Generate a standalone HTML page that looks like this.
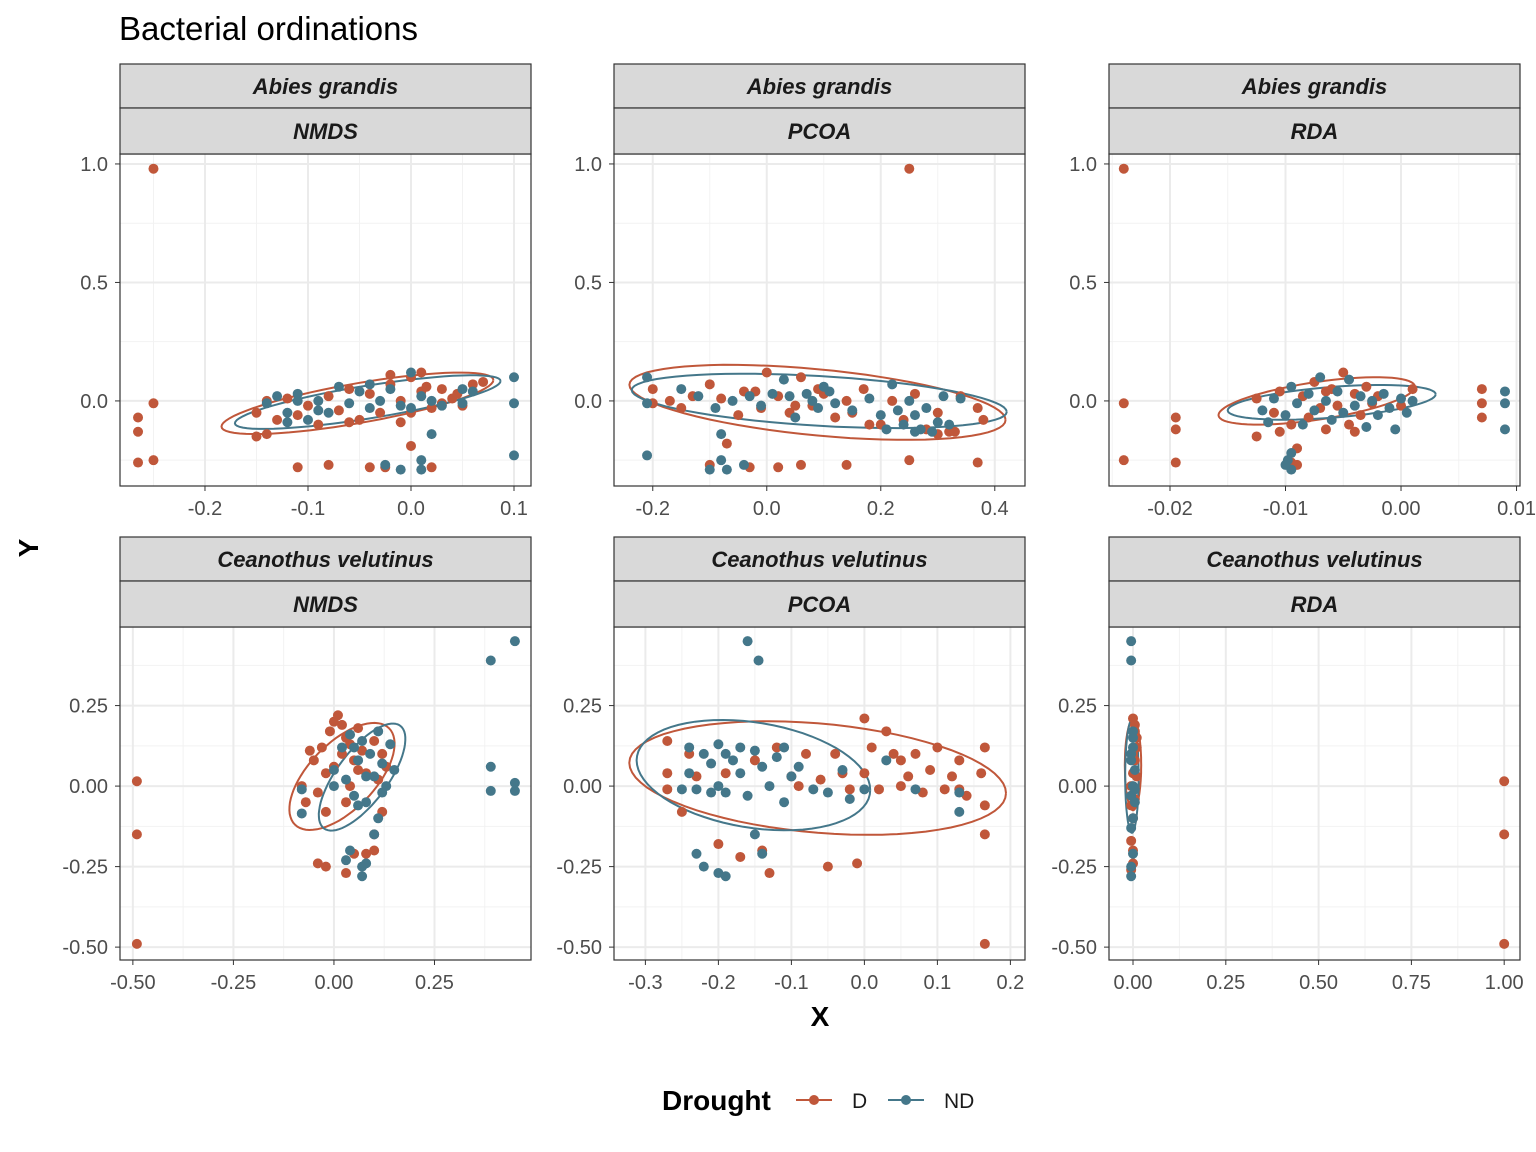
<!DOCTYPE html>
<html><head><meta charset="utf-8"><style>
html,body{margin:0;padding:0;background:#fff;}
svg{display:block;font-family:"Liberation Sans",sans-serif;}
</style></head><body>
<svg id="chart" width="1536" height="1152" viewBox="0 0 1536 1152">
<text x="119" y="40" font-size="33" fill="#000">Bacterial ordinations</text>
<text x="820" y="1026" font-size="28" font-weight="bold" text-anchor="middle">X</text>
<text x="38" y="548" font-size="28" font-weight="bold" text-anchor="middle" transform="rotate(-90 38 548)">Y</text>
<g>
<text x="662" y="1110" font-size="28" font-weight="bold">Drought</text>
<g><line x1="796" y1="1100" x2="832" y2="1100" stroke="#C0573A" stroke-width="2"/><circle cx="814" cy="1100" r="5" fill="#C0573A"/><text x="852" y="1108" font-size="21" fill="#1a1a1a">D</text></g>
<g><line x1="888" y1="1100" x2="924" y2="1100" stroke="#44778A" stroke-width="2"/><circle cx="906" cy="1100" r="5" fill="#44778A"/><text x="944" y="1108" font-size="21" fill="#1a1a1a">ND</text></g>
</g>
</svg>
<script>
// ---- data ----
const panelNames = ["NMDS","PCOA","RDA","NMDS","PCOA","RDA"];
const hostNames = ["Abies grandis","Abies grandis","Abies grandis","Ceanothus velutinus","Ceanothus velutinus","Ceanothus velutinus"];
const xTicks = [[-0.2,-0.1,0,0.1],[-0.2,0,0.2,0.4],[-0.02,-0.01,0,0.01],[-0.5,-0.25,0,0.25],[-0.3,-0.2,-0.1,0,0.1,0.2],[0,0.25,0.5,0.75,1]];
const xTickLabels = [["-0.2","-0.1","0.0","0.1"],["-0.2","0.0","0.2","0.4"],["-0.02","-0.01","0.00","0.01"],["-0.50","-0.25","0.00","0.25"],["-0.3","-0.2","-0.1","0.0","0.1","0.2"],["0.00","0.25","0.50","0.75","1.00"]];
const xDomains = [[-0.2825,0.1165],[-0.268,0.453],[-0.02528,0.0103],[-0.532,0.49],[-0.343,0.22],[-0.0647,1.0426]];
const yTicksTop = [0,0.5,1.0];
const yTickLabelsTop = ["0.0","0.5","1.0"];
const yTicksBottom = [-0.5,-0.25,0,0.25];
const yTickLabelsBottom = ["-0.50","-0.25","0.00","0.25"];
const yDomainTop = [-0.359,1.042];
const yDomainBottom = [-0.540,0.494];

const pointsD = [
[[-0.25,0.98],[-0.265,-0.07],[-0.265,-0.13],[-0.265,-0.26],[-0.25,-0.01],[-0.25,-0.25],[-0.11,-0.28],[-0.08,-0.27],[-0.04,-0.28],[-0.025,-0.28],[0.02,-0.28],[0.0,-0.19],[-0.15,-0.15],[-0.14,-0.14],[-0.15,-0.05],[-0.14,0.0],[-0.13,-0.08],[-0.11,-0.06],[-0.1,-0.02],[-0.09,-0.1],[-0.08,0.02],[-0.07,-0.04],[-0.06,0.05],[-0.05,-0.08],[-0.04,0.03],[-0.03,-0.05],[-0.02,0.07],[-0.01,0.0],[0.0,0.1],[0.0,-0.05],[0.01,0.04],[0.02,-0.03],[0.03,0.05],[0.04,0.01],[0.05,-0.02],[0.06,0.07],[0.07,0.08],[0.01,0.12],[-0.02,0.11],[-0.06,-0.09],[0.03,-0.01],[-0.01,-0.09],[0.015,0.06],[-0.12,0.01],[0.045,0.03]],
[[0.25,0.98],[-0.2,0.05],[-0.2,-0.01],[-0.17,0.0],[-0.1,0.07],[-0.1,-0.27],[-0.07,-0.18],[-0.03,-0.28],[0.02,-0.28],[0.06,-0.27],[0.14,-0.27],[0.25,-0.25],[0.37,-0.26],[0.38,-0.08],[0.37,-0.03],[-0.15,-0.03],[-0.08,0.01],[-0.05,-0.06],[-0.02,0.04],[0.0,0.12],[0.02,0.02],[0.04,-0.05],[0.06,0.1],[0.08,-0.02],[0.1,0.03],[0.12,-0.07],[0.14,0.0],[0.15,-0.05],[0.17,0.05],[0.2,-0.1],[0.22,0.0],[0.24,-0.08],[0.26,0.03],[0.28,-0.12],[0.3,-0.05],[0.32,-0.13],[0.34,0.02],[0.33,-0.13],[-0.13,0.02],[-0.04,0.04],[0.09,0.05],[0.18,-0.1],[0.3,-0.14],[-0.01,-0.03],[0.05,-0.02]],
[[-0.024,0.98],[-0.024,-0.01],[-0.024,-0.25],[-0.0195,-0.07],[-0.0195,-0.12],[-0.0195,-0.26],[0.007,0.05],[0.007,-0.01],[0.007,-0.07],[-0.0125,0.01],[-0.0125,-0.15],[-0.011,-0.05],[-0.0105,0.04],[-0.0095,-0.1],[-0.009,-0.2],[-0.0085,0.02],[-0.008,-0.07],[-0.0075,0.08],[-0.007,-0.03],[-0.0065,-0.12],[-0.006,0.05],[-0.0055,-0.02],[-0.005,0.12],[-0.0045,-0.1],[-0.004,0.03],[-0.0035,-0.06],[-0.003,0.06],[-0.0025,-0.01],[-0.002,0.02],[0.0,-0.02],[0.001,0.05],[-0.0095,-0.26],[-0.009,-0.27],[-0.0105,-0.13],[-0.0065,0.04],[-0.004,-0.13]],
[[-0.49,0.015],[-0.49,-0.15],[-0.49,-0.49],[-0.04,-0.24],[-0.02,-0.25],[0.03,-0.27],[0.05,-0.21],[0.08,-0.21],[0.1,-0.15],[0.1,-0.2],[0.12,-0.08],[-0.08,0.0],[-0.07,-0.05],[-0.05,0.08],[-0.04,-0.02],[-0.03,0.12],[-0.02,0.04],[-0.01,0.17],[0.0,0.2],[0.01,0.22],[0.0,0.06],[0.02,0.1],[0.03,0.15],[0.04,0.0],[0.05,0.08],[0.06,0.18],[0.07,0.11],[0.08,0.04],[0.1,0.14],[0.12,0.1],[0.13,0.06],[0.03,-0.05],[-0.02,-0.08],[0.11,0.02],[0.02,0.19],[0.06,0.05],[-0.06,0.11],[0.04,0.13]],
[[-0.27,0.14],[-0.27,0.04],[-0.27,-0.01],[-0.25,-0.08],[-0.24,0.1],[-0.23,0.03],[-0.2,-0.18],[-0.17,-0.22],[-0.15,0.08],[-0.14,-0.2],[-0.13,-0.27],[-0.12,0.12],[-0.1,0.03],[-0.08,0.1],[-0.06,0.02],[-0.05,-0.25],[-0.04,0.1],[-0.02,-0.01],[-0.01,-0.24],[0.0,0.21],[0.0,0.04],[0.01,0.12],[0.02,-0.01],[0.03,0.17],[0.04,0.1],[0.05,0.0],[0.06,0.03],[0.07,0.1],[0.08,-0.02],[0.09,0.05],[0.1,0.12],[0.11,-0.01],[0.12,0.03],[0.13,0.08],[0.14,-0.03],[0.16,0.04],[0.165,-0.06],[0.165,0.12],[0.165,-0.15],[0.165,-0.49],[0.13,-0.01],[-0.09,0.0],[-0.03,0.04],[0.05,0.08],[-0.19,0.04]],
[[1.0,0.015],[1.0,-0.15],[1.0,-0.49],[0,0.21],[0.005,0.19],[0.01,0.15],[0.01,0.12],[0.005,0.08],[0.0,0.04],[-0.005,0.0],[0.005,-0.04],[0.0,-0.1],[-0.005,-0.17],[0.0,-0.2],[0.0,-0.24],[-0.005,-0.26],[0.01,0.03],[0.0,0.1],[-0.005,-0.06],[0.005,0.17]]
];
const pointsND = [
[[0.1,0.1],[0.1,-0.01],[0.1,-0.23],[0.02,-0.14],[0.01,-0.25],[-0.01,-0.29],[0.01,-0.29],[-0.025,-0.27],[-0.13,0.02],[-0.12,-0.05],[-0.11,0.03],[-0.1,-0.08],[-0.09,0.0],[-0.08,-0.05],[-0.07,0.06],[-0.06,-0.01],[-0.05,0.04],[-0.04,-0.03],[-0.03,0.0],[-0.02,0.05],[-0.01,-0.02],[0.0,0.12],[0.0,-0.03],[0.01,0.02],[0.02,0.0],[0.03,-0.02],[0.05,0.05],[0.06,0.04],[-0.12,-0.09],[-0.14,-0.01],[-0.09,-0.04],[-0.04,0.07],[0.05,-0.01],[-0.11,0.0]],
[[-0.21,0.1],[-0.21,-0.01],[-0.21,-0.23],[-0.1,-0.29],[-0.08,-0.25],[-0.07,-0.29],[-0.08,-0.14],[-0.04,-0.27],[-0.15,0.05],[-0.12,0.02],[-0.09,-0.03],[-0.06,0.0],[-0.03,0.02],[-0.01,-0.02],[0.01,0.03],[0.03,0.09],[0.05,-0.07],[0.07,0.03],[0.09,-0.03],[0.1,0.06],[0.12,-0.01],[0.15,-0.04],[0.18,0.01],[0.2,-0.06],[0.21,-0.12],[0.23,-0.04],[0.24,-0.1],[0.25,0.0],[0.26,-0.06],[0.27,-0.12],[0.28,-0.03],[0.3,-0.09],[0.31,0.02],[0.32,-0.1],[0.34,0.01],[0.26,-0.13],[0.22,0.07],[0.04,0.02],[0.08,0.0],[0.11,0.04],[0.29,-0.13]],
[[0.009,0.04],[0.009,-0.01],[0.009,-0.12],[-0.0095,-0.22],[-0.0098,-0.25],[-0.0095,-0.29],[-0.01,-0.27],[-0.012,-0.04],[-0.011,0.01],[-0.01,-0.06],[-0.0095,0.06],[-0.009,-0.01],[-0.0085,-0.1],[-0.008,0.03],[-0.0075,-0.04],[-0.007,0.1],[-0.0065,0.0],[-0.006,-0.08],[-0.0055,0.04],[-0.005,-0.05],[-0.0045,0.09],[-0.004,-0.02],[-0.0035,0.02],[-0.003,-0.11],[-0.0025,0.0],[-0.002,-0.06],[-0.0015,0.03],[-0.001,-0.03],[0.0,0.01],[0.0005,-0.05],[0.001,0.0],[-0.0005,-0.12],[-0.0115,-0.09]],
[[0.39,0.39],[0.45,0.45],[0.39,0.06],[0.39,-0.015],[0.45,0.01],[0.45,-0.015],[-0.08,-0.085],[-0.08,-0.01],[0.03,-0.23],[0.04,-0.2],[0.07,-0.28],[0.07,-0.25],[0.08,-0.24],[0.1,-0.15],[0.11,-0.1],[0.0,0.05],[0.02,0.12],[0.03,0.02],[0.04,0.16],[0.05,-0.03],[0.06,0.08],[0.07,0.14],[0.08,-0.05],[0.09,0.1],[0.1,0.03],[0.11,0.17],[0.12,0.07],[0.13,0.0],[0.14,0.13],[0.15,0.05],[0.05,0.12],[0.08,0.03],[0.06,-0.06],[0.12,-0.02],[0.0,0.0]],
[[-0.16,0.45],[-0.145,0.39],[-0.23,-0.21],[-0.22,-0.25],[-0.2,-0.27],[-0.19,-0.28],[-0.14,-0.21],[-0.15,-0.15],[-0.24,0.12],[-0.24,0.04],[-0.23,-0.01],[-0.22,0.1],[-0.21,0.07],[-0.2,0.0],[-0.2,0.13],[-0.19,-0.02],[-0.18,0.08],[-0.17,0.04],[-0.16,-0.03],[-0.15,0.11],[-0.14,0.06],[-0.13,0.0],[-0.12,0.09],[-0.11,-0.05],[-0.1,0.03],[-0.09,0.06],[-0.07,-0.01],[-0.05,-0.02],[-0.03,0.05],[-0.02,-0.04],[0.0,-0.01],[0.03,0.08],[0.07,-0.01],[0.13,-0.08],[0.13,-0.02],[-0.25,-0.01],[-0.21,-0.02],[-0.17,0.12],[-0.11,0.12],[-0.19,0.1]],
[[-0.005,0.45],[-0.005,0.39],[0,0.17],[0,0.12],[-0.005,0.08],[0.005,0.05],[0,0.0],[-0.005,-0.03],[0.005,-0.05],[0,-0.1],[-0.005,-0.13],[0,-0.21],[-0.005,-0.25],[-0.005,-0.28],[0,0.15],[0.005,-0.01],[-0.005,0.1]]
];
// ellipses: [cx, cy, ux, uy, vx, vy] in data units
const ellipseD = [
[-0.052,-0.01,0.132,0.098,0,0.085],
[0.089,-0.006,0.33,-0.074,0,0.14],
[-0.0073,0.0,0.0085,0.06,0,0.08],
[0.02,0.03,0.105,0.16,-0.078,0.045],
[-0.064,0.025,0.258,-0.047,0,0.17],
[0,0.065,0,0.14,0.022,0]
];
const ellipseND = [
[-0.042,-0.005,0.129,0.089,0,0.07],
[0.092,0,0.329,-0.046,0,0.105],
[-0.006,-0.006,0.009,0.034,0,0.065],
[0.07,0.028,0.085,0.165,-0.066,0.02],
[-0.152,0.034,0.16,-0.046,0,0.165],
[-0.003,0.03,0,0.175,0.018,0]
];

const NS = "http://www.w3.org/2000/svg";
const svg = document.getElementById("chart");
const COL_D = "#C0573A", COL_ND = "#44778A";
const colX = [120,614,1109], W = 411;
function mk(tag, attrs, parent){ const e=document.createElementNS(NS,tag); for(const k in attrs) e.setAttribute(k,attrs[k]); (parent||svg).appendChild(e); return e; }

for(let p=0;p<6;p++){
  const row = p<3?0:1, col = p%3;
  const x0 = colX[col], x1 = x0+W;
  const y0 = row===0?154:627, y1 = row===0?486:960;
  const s1 = row===0?64:537;
  const xd = xDomains[p], yd = row===0?yDomainTop:yDomainBottom;
  const xs = v => x0 + (v-xd[0])/(xd[1]-xd[0])*(x1-x0);
  const ys = v => y1 - (v-yd[0])/(yd[1]-yd[0])*(y1-y0);
  const g = mk("g",{});
  
  
  mk("rect",{x:x0,y:y0,width:W,height:y1-y0,fill:"#fff"},g);
  const clipId="clip"+p;
  const cp=mk("clipPath",{id:clipId},g); mk("rect",{x:x0,y:y0,width:W,height:y1-y0},cp);
  const xt = xTicks[p], yt = row===0?yTicksTop:yTicksBottom, ytl = row===0?yTickLabelsTop:yTickLabelsBottom;
  const xstep = xt[1]-xt[0], ystep = yt[1]-yt[0];
  for(let v=xt[0]-xstep/2; v<=xd[1]; v+=xstep){ if(v>=xd[0]){ const l=mk("line",{x1:xs(v),x2:xs(v),y1:y0,y2:y1,stroke:"#f2f2f2","stroke-width":1},g);   } }
  for(let v=yt[0]-ystep/2; v<=yd[1]; v+=ystep){ if(v>=yd[0]){ const l=mk("line",{x1:x0,x2:x1,y1:ys(v),y2:ys(v),stroke:"#f2f2f2","stroke-width":1},g);   } }
  xt.forEach((v,i)=>{
    const l=mk("line",{x1:xs(v),x2:xs(v),y1:y0,y2:y1,stroke:"#ebebeb","stroke-width":2},g);
     
    mk("line",{x1:xs(v),x2:xs(v),y1:y1,y2:y1+5,stroke:"#333","stroke-width":1},g);
    const t=mk("text",{x:xs(v),y:y1+29,"font-size":20,fill:"#4d4d4d","text-anchor":"middle"},g);
    t.textContent=xTickLabels[p][i];
     
  });
  yt.forEach((v,i)=>{
    const l=mk("line",{x1:x0,x2:x1,y1:ys(v),y2:ys(v),stroke:"#ebebeb","stroke-width":2},g);
     
    mk("line",{x1:x0-5,x2:x0,y1:ys(v),y2:ys(v),stroke:"#333","stroke-width":1},g);
    const t=mk("text",{x:x0-12,y:ys(v)+7,"font-size":20,fill:"#4d4d4d","text-anchor":"end"},g);
    t.textContent=ytl[i];
     
  });
  const inner = mk("g",{"clip-path":"url(#"+clipId+")"},g);
  [[ellipseD[p],COL_D,'ellipse-d'],[ellipseND[p],COL_ND,'ellipse-nd']].forEach(([e,c,n])=>{
    let d="";
    for(let k=0;k<=72;k++){ const t=k/72*2*Math.PI;
      const x=e[0]+e[2]*Math.cos(t)+e[4]*Math.sin(t), y=e[1]+e[3]*Math.cos(t)+e[5]*Math.sin(t);
      d+=(k?"L":"M")+xs(x).toFixed(1)+","+ys(y).toFixed(1); }
    const pa=mk("path",{d:d,fill:"none",stroke:c,"stroke-width":2},inner);
     
  });
  [[pointsD[p],COL_D,'point-d'],[pointsND[p],COL_ND,'point-nd']].forEach(([pts,c,n])=>{
    pts.forEach(pt=>{
      const ci=mk("circle",{cx:xs(pt[0]),cy:ys(pt[1]),r:5,fill:c},inner);
       
    });
  });
  mk("rect",{x:x0,y:y0,width:W,height:y1-y0,fill:"none",stroke:"#333","stroke-width":1.2},g);
  [[s1,hostNames[p],'strip-host'],[s1+44,panelNames[p],'strip-method']].forEach(([sy,txt,n])=>{
    const sg=mk("g",{},g);
     
    mk("rect",{x:x0,y:sy,width:W,height:(n==='strip-host'?44:46),fill:"#d9d9d9",stroke:"#333","stroke-width":1.2},sg);
    const t=mk("text",{x:x0+W/2,y:sy+(n==='strip-host'?30:31),"font-size":22,"font-weight":"bold","font-style":"italic",fill:"#1a1a1a","text-anchor":"middle"},sg);
    t.textContent=txt;
  });
}
</script>
</body></html>
